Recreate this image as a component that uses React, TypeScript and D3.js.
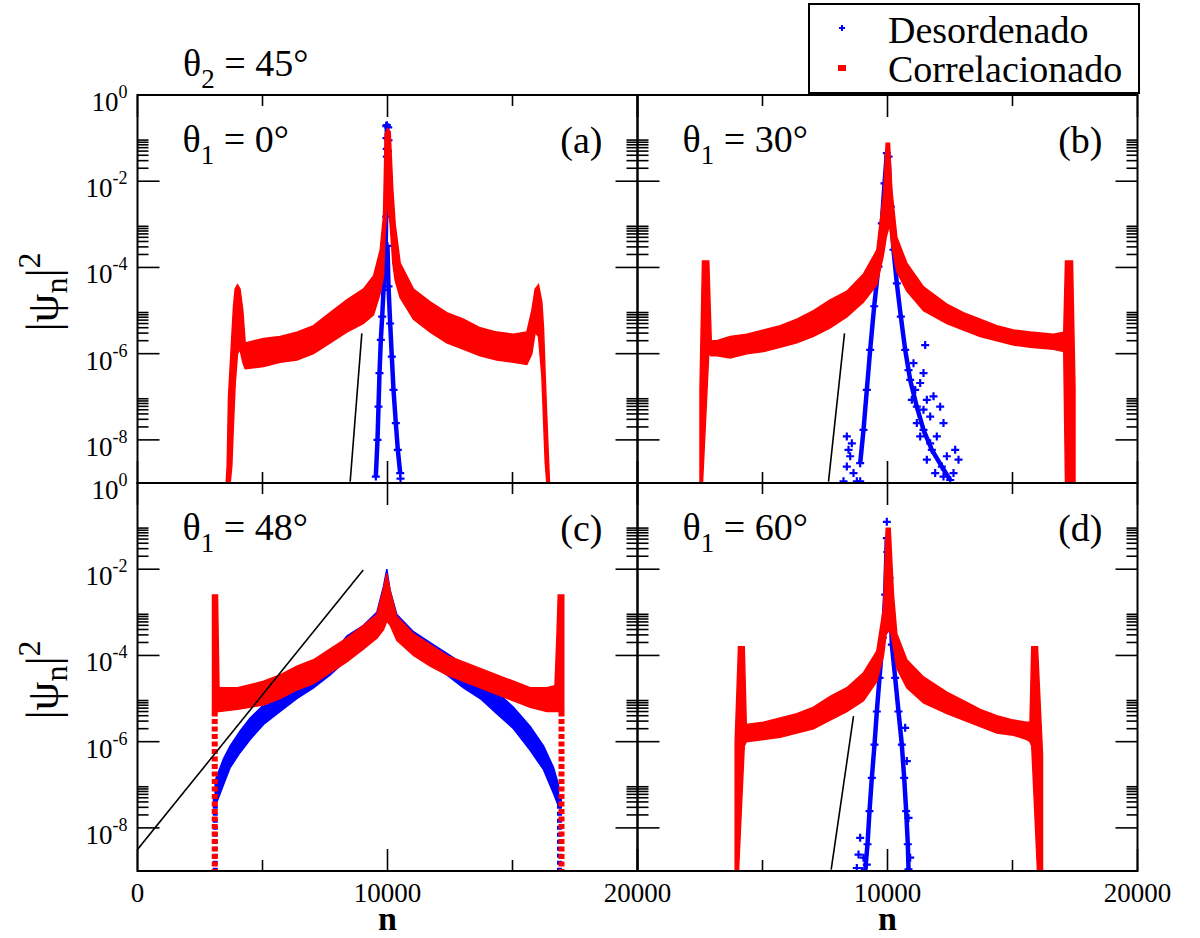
import React from 'react';
import * as d3 from 'd3';

// ---------------- data ----------------
const xMajorTicks = [0, 10000, 20000];
const xMinorTicks = [5000, 15000];
const yMajorExps = [0, -2, -4, -6, -8];
const yMinorMultipliers = [2, 3, 4, 5, 6, 7, 8, 9];
const theta1Labels = ['0°', '30°', '48°', '60°'];
const panelLetters = ['(a)', '(b)', '(c)', '(d)'];
const seriesNames = ['Desordenado', 'Correlacionado'];

// panel (a) — correlated (red) band: n, upper and lower log10 |psi|^2
const aRedN = [3547, 3587, 3640, 3707, 3773, 3840, 3907, 4000, 4100, 4213, 4307, 5040, 5707, 6373, 7040, 7707, 8373, 9040, 9440, 9707, 9840, 9907, 10000, 10107, 10213, 10307, 10507, 11040, 11707, 12373, 13040, 13707, 14373, 15040, 15573, 15773, 15907, 16040, 16173, 16240, 16307, 16373, 16480];
const aRedHi = [-9, -8.6, -7.0, -6.3, -5.6, -4.9, -4.5, -4.4, -4.5, -5.0, -5.75, -5.65, -5.6, -5.5, -5.35, -5.05, -4.75, -4.5, -4.2, -3.6, -2.8, -0.9, -0.78, -0.85, -2.2, -3.0, -3.9, -4.5, -4.8, -5.05, -5.2, -5.4, -5.5, -5.55, -5.5, -5.0, -4.5, -4.4, -4.8, -5.4, -6.5, -7.5, -9];
const aRedLo = [-9, -9, -9, -9, -8.6, -7.6, -6.7, -6.0, -5.9, -6.2, -6.35, -6.3, -6.2, -6.15, -6.0, -5.75, -5.5, -5.3, -5.1, -4.6, -4.2, -3.2, -2.5, -3.0, -3.9, -4.3, -4.7, -5.2, -5.5, -5.75, -5.9, -6.05, -6.15, -6.2, -6.25, -6.0, -5.5, -5.6, -6.5, -7.5, -8.5, -9, -9];
// panel (a) — disordered (blue) branches
const aBlueLeftN = [9533, 9600, 9640, 9680, 9733, 9787, 9840, 9920, 9947, 9973, 9973];
const aBlueLeftE = [-8.85, -8.0, -7.23, -6.45, -5.68, -5.14, -4.52, -3.75, -2.82, -1.43, -0.7];
const aBlueRightN = [10000, 10040, 10107, 10173, 10240, 10333, 10413, 10507];
const aBlueRightE = [-3.5, -4.44, -5.3, -6.07, -6.84, -7.61, -8.23, -8.77];
const aBlueDotsN = [9950, 10030, 9960, 10040, 9970, 10020, 10520];
const aBlueDotsE = [-0.72, -0.75, -1.0, -1.05, -1.25, -1.3, -8.9];
const aFitN = [8507, 8973];
const aFitE = [-8.97, -5.53];

// panel (b)
const bRedN = [2500, 2600, 2850, 2950, 3173, 3707, 4373, 5040, 5707, 6373, 7040, 7707, 8373, 9040, 9573, 9840, 9947, 10080, 10173, 10373, 10773, 11440, 12373, 13040, 13707, 14373, 15040, 15707, 16640, 17050, 17120, 17400, 17500];
const bRedHi = [-6.8, -3.85, -3.85, -5.7, -5.7, -5.6, -5.55, -5.45, -5.35, -5.2, -5.0, -4.75, -4.55, -4.15, -3.6, -2.3, -1.12, -1.12, -2.2, -3.3, -3.9, -4.45, -4.85, -5.05, -5.2, -5.35, -5.45, -5.5, -5.55, -5.5, -3.85, -3.85, -6.8];
const bRedLo = [-9, -9, -6.0, -6.05, -6.05, -6.1, -6.0, -5.95, -5.85, -5.75, -5.6, -5.4, -5.15, -4.8, -4.4, -3.7, -3.3, -3.0, -3.5, -4.1, -4.55, -5.0, -5.3, -5.45, -5.6, -5.7, -5.8, -5.85, -5.9, -5.95, -9, -9, -9];
const bBlueLeftN = [8907, 9040, 9173, 9307, 9467, 9640, 9773, 9880, 9973];
const bBlueLeftE = [-8.54, -7.77, -6.84, -5.91, -4.9, -3.98, -2.98, -2.05, -1.35];
const bBlueRightN = [10040, 10133, 10240, 10373, 10533, 10707, 10907, 11173, 11440, 11773, 12173, 12507];
const bBlueRightE = [-1.43, -2.59, -3.59, -4.37, -5.14, -5.91, -6.61, -7.23, -7.77, -8.23, -8.62, -8.93];
const bBlueDotsN = [8240, 8373, 8507, 8573, 8373, 8773, 8640, 8907, 8440, 11040, 11307, 11440, 11507, 10973, 11173, 11573, 11707, 11840, 12107, 12240, 11973, 12373, 12707, 12840, 12640, 12240, 11707, 11440, 11107, 10840, 11307, 11573, 11907];
const bBlueDotsE = [-8.96, -8.62, -8.38, -8.08, -7.92, -8.96, -8.77, -8.96, -8.23, -6.22, -6.68, -6.45, -5.80, -7.07, -7.61, -7.07, -7.46, -6.99, -7.23, -7.61, -7.92, -8.38, -8.23, -8.46, -8.77, -8.85, -8.08, -7.30, -6.84, -6.38, -7.92, -8.46, -8.77];
const bFitN = [7640, 8280];
const bFitE = [-8.97, -5.53];

// panel (c)
const cRedN = [3000, 3200, 3260, 4000, 5040, 5707, 6373, 7040, 7707, 8373, 9040, 9573, 9840, 9973, 10107, 10373, 11040, 11707, 12373, 13040, 13707, 14373, 15040, 15707, 16373, 16700, 16780, 16830, 17050];
const cRedHi = [-2.6, -2.6, -4.75, -4.75, -4.6, -4.45, -4.25, -4.1, -3.85, -3.6, -3.3, -3.05, -2.45, -2.1, -2.5, -3.1, -3.5, -3.75, -4.0, -4.15, -4.3, -4.45, -4.6, -4.75, -4.75, -4.7, -3.5, -2.6, -2.6];
const cRedLo = [-5.3, -5.3, -5.3, -5.25, -5.15, -5.0, -4.8, -4.65, -4.4, -4.15, -3.85, -3.6, -3.4, -3.2, -3.3, -3.65, -4.0, -4.25, -4.45, -4.6, -4.75, -4.9, -5.05, -5.2, -5.3, -5.3, -5.3, -5.3, -5.3];
const cRedTailN = [3090, 16960];
const cRedTailE = [-5.3, -9];
const cBlueN = [3107, 3240, 3440, 3707, 4107, 4507, 5040, 5707, 6373, 7040, 7707, 8373, 9040, 9573, 9840, 9973, 10107, 10373, 11040, 11707, 12373, 13040, 13707, 14373, 15040, 15707, 16240, 16640, 16840];
const cBlueHi = [-6.9, -6.7, -6.4, -6.1, -5.75, -5.45, -5.15, -4.85, -4.6, -4.35, -4.05, -3.55, -3.3, -3.0, -2.4, -2.0, -2.5, -3.05, -3.45, -3.7, -3.95, -4.2, -4.55, -4.85, -5.2, -5.65, -6.1, -6.6, -7.0];
const cBlueLo = [-7.5, -7.3, -7.0, -6.6, -6.25, -5.95, -5.6, -5.3, -5.0, -4.75, -4.45, -4.1, -3.85, -3.5, -3.3, -3.0, -3.2, -3.6, -3.95, -4.2, -4.45, -4.75, -5.0, -5.35, -5.7, -6.2, -6.65, -7.2, -7.5];
const cBlueTailN = [3110, 16880];
const cBlueTailE = [-7.3, -9];
const cFitN = [0, 9030];
const cFitE = [-8.5, -2.02];

// panel (d)
const dRedN = [3907, 4040, 4270, 4350, 5040, 5707, 6373, 7040, 7707, 8373, 9040, 9573, 9840, 9947, 10107, 10240, 10373, 10773, 11440, 12373, 13040, 13707, 14373, 15040, 15573, 15700, 15770, 16000, 16200];
const dRedHi = [-6.0, -3.8, -3.8, -5.6, -5.55, -5.45, -5.35, -5.2, -4.95, -4.75, -4.4, -3.9, -2.9, -1.05, -1.05, -2.6, -3.5, -4.1, -4.5, -4.85, -5.05, -5.25, -5.4, -5.5, -5.55, -5.55, -3.8, -3.8, -6.3];
const dRedLo = [-9, -9, -6.1, -6.0, -5.95, -5.9, -5.8, -5.7, -5.5, -5.3, -5.05, -4.6, -4.0, -3.5, -3.4, -3.8, -4.3, -4.75, -5.1, -5.35, -5.5, -5.65, -5.8, -5.85, -5.95, -6.0, -6.1, -9, -9];
const dBlueLeftN = [9107, 9200, 9280, 9373, 9480, 9573, 9680, 9813, 9907, 9973];
const dBlueLeftE = [-9, -8.38, -7.61, -6.84, -6.07, -5.3, -4.52, -3.59, -2.59, -1.28];
const dBlueRightN = [10080, 10173, 10307, 10440, 10573, 10667, 10747, 10813, 10840];
const dBlueRightE = [-2.2, -3.75, -4.52, -5.3, -6.07, -6.84, -7.61, -8.38, -8.96];
const dBlueDotsN = [8840, 8907, 9040, 8773, 9173, 8973, 10707, 10773, 10840, 10907, 9973, 9990];
const dBlueDotsE = [-8.62, -8.23, -8.69, -8.93, -8.85, -9.0, -5.68, -6.45, -7.77, -8.69, -0.9, -1.6];
const dFitN = [7747, 8640];
const dFitE = [-8.97, -5.41];

// ---------------- layout ----------------
const FONT = "'Liberation Serif', 'Times New Roman', 'DejaVu Serif', serif";
const RED = '#ff0000';
const BLUE = '#0000ff';
const PX0 = [137.5, 637.5, 137.5, 637.5];
const PY0 = [95, 95, 483, 483];
const PW = 500;
const PH = 388;

type Band = { n: number[]; hi: number[]; lo: number[] };
type Branch = { n: number[]; e: number[] };
type PanelData = {
  red: Band;
  blueBand?: Band;
  blueBranches: Branch[];
  blueDots: Branch;
  fit: Branch;
  redTail?: { n: number[]; e: number[] };
  blueTail?: { n: number[]; e: number[] };
};

const panelData: PanelData[] = [
  {
    red: { n: aRedN, hi: aRedHi, lo: aRedLo },
    blueBranches: [{ n: aBlueLeftN, e: aBlueLeftE }, { n: aBlueRightN, e: aBlueRightE }],
    blueDots: { n: aBlueDotsN, e: aBlueDotsE },
    fit: { n: aFitN, e: aFitE },
  },
  {
    red: { n: bRedN, hi: bRedHi, lo: bRedLo },
    blueBranches: [{ n: bBlueLeftN, e: bBlueLeftE }, { n: bBlueRightN, e: bBlueRightE }],
    blueDots: { n: bBlueDotsN, e: bBlueDotsE },
    fit: { n: bFitN, e: bFitE },
  },
  {
    red: { n: cRedN, hi: cRedHi, lo: cRedLo },
    blueBand: { n: cBlueN, hi: cBlueHi, lo: cBlueLo },
    blueBranches: [],
    blueDots: { n: [], e: [] },
    fit: { n: cFitN, e: cFitE },
    redTail: { n: cRedTailN, e: cRedTailE },
    blueTail: { n: cBlueTailN, e: cBlueTailE },
  },
  {
    red: { n: dRedN, hi: dRedHi, lo: dRedLo },
    blueBranches: [{ n: dBlueLeftN, e: dBlueLeftE }, { n: dBlueRightN, e: dBlueRightE }],
    blueDots: { n: dBlueDotsN, e: dBlueDotsE },
    fit: { n: dFitN, e: dFitE },
  },
];

const plusPath = (r: number) => `M${-r},0H${r}M0,${-r}V${r}`;

function Panel({ idx }: { idx: number }) {
  const x0 = PX0[idx];
  const y0 = PY0[idx];
  const x = d3.scaleLinear().domain([0, 20000]).range([x0, x0 + PW]);
  const y = d3.scaleLog().domain([1, 1e-9]).range([y0, y0 + PH]);
  const ye = (e: number) => y(Math.pow(10, e));
  const data = panelData[idx];
  const clipId = `clip${idx}`;

  const bandArea = (b: Band) =>
    d3
      .area<number>()
      .x((i) => x(b.n[i]))
      .y0((i) => ye(b.lo[i]))
      .y1((i) => ye(b.hi[i]))(d3.range(b.n.length)) || '';

  const branchLine = (br: Branch) =>
    d3
      .line<number>()
      .x((i) => x(br.n[i]))
      .y((i) => ye(br.e[i]))(d3.range(br.n.length)) || '';

  const majorLen = 22;
  const minorLen = 11;
  const left = x0;
  const right = x0 + PW;
  const top = y0;
  const bottom = y0 + PH;

  const yMinorVals: number[] = [];
  yMajorExps.forEach((m) => {
    if (m < 0) yMinorMultipliers.forEach((k) => yMinorVals.push(k * Math.pow(10, m)));
  });

  const showYLabels = idx === 0 || idx === 2;
  const showXLabels = idx >= 2;

  return (
    <g>
      <defs>
        <clipPath id={clipId}>
          <rect x={left} y={top} width={PW} height={PH} />
        </clipPath>
      </defs>
      <g clipPath={`url(#${clipId})`}>
        {data.blueTail &&
          data.blueTail.n.map((nv, i) => (
            <line
              key={'bt' + i}
              x1={x(nv)}
              x2={x(nv)}
              y1={ye(data.blueTail!.e[0])}
              y2={ye(data.blueTail!.e[1])}
              stroke={BLUE}
              strokeWidth={5}
              strokeDasharray="4 3"
            />
          ))}
        {data.blueBand && <path d={bandArea(data.blueBand)} fill={BLUE} stroke={BLUE} strokeWidth={1.5} />}
        {data.blueBranches.map((br, bi) => (
          <g key={'br' + bi}>
            <path d={branchLine(br)} fill="none" stroke={BLUE} strokeWidth={4.5} />
            {br.n.map((nv, i) => (
              <path
                key={i}
                d={plusPath(4)}
                transform={`translate(${x(nv)},${ye(br.e[i])})`}
                stroke={BLUE}
                strokeWidth={2.2}
              />
            ))}
          </g>
        ))}
        {data.blueDots.n.map((nv, i) => (
          <path
            key={'bd' + i}
            d={plusPath(4)}
            transform={`translate(${x(nv)},${ye(data.blueDots.e[i])})`}
            stroke={BLUE}
            strokeWidth={2.2}
          />
        ))}
        {data.redTail &&
          data.redTail.n.map((nv, i) => (
            <line
              key={'rt' + i}
              x1={x(nv)}
              x2={x(nv)}
              y1={ye(data.redTail!.e[0])}
              y2={ye(data.redTail!.e[1])}
              stroke={RED}
              strokeWidth={6}
              strokeDasharray="5 2.5"
            />
          ))}
        <path d={bandArea(data.red)} fill={RED} stroke={RED} strokeWidth={1.5} />
        <line
          x1={x(data.fit.n[0])}
          y1={ye(data.fit.e[0])}
          x2={x(data.fit.n[1])}
          y2={ye(data.fit.e[1])}
          stroke="#000"
          strokeWidth={1.6}
        />
      </g>

      {/* ticks */}
      <g stroke="#000" strokeWidth={1.6}>
        {yMajorExps.map((m) => {
          const yy = ye(m);
          return (
            <g key={'ym' + m}>
              <line x1={left} x2={left + majorLen} y1={yy} y2={yy} />
              <line x1={right} x2={right - majorLen} y1={yy} y2={yy} />
            </g>
          );
        })}
        {yMinorVals.map((v, i) => {
          const yy = y(v);
          return (
            <g key={'yn' + i}>
              <line x1={left} x2={left + minorLen} y1={yy} y2={yy} />
              <line x1={right} x2={right - minorLen} y1={yy} y2={yy} />
            </g>
          );
        })}
        {xMajorTicks.map((v) => (
          <g key={'xm' + v}>
            <line x1={x(v)} x2={x(v)} y1={bottom} y2={bottom - majorLen} />
            <line x1={x(v)} x2={x(v)} y1={top} y2={top + majorLen} />
          </g>
        ))}
        {xMinorTicks.map((v) => (
          <g key={'xn' + v}>
            <line x1={x(v)} x2={x(v)} y1={bottom} y2={bottom - minorLen} />
            <line x1={x(v)} x2={x(v)} y1={top} y2={top + minorLen} />
          </g>
        ))}
      </g>
      <rect x={left} y={top} width={PW} height={PH} fill="none" stroke="#000" strokeWidth={2} />

      {showYLabels &&
        yMajorExps.map((m) => (
          <text key={'yl' + m} x={left - 10} y={ye(m) + 16} textAnchor="end" fontSize={27}>
            10
            <tspan dy={-13} fontSize={18}>
              {String(m)}
            </tspan>
          </text>
        ))}
      {showXLabels &&
        xMajorTicks
          .filter((v) => !(idx === 3 && v === 0))
          .map((v) => (
            <text key={'xl' + v} x={x(v)} y={bottom + 31} textAnchor="middle" fontSize={27}>
              {String(v)}
            </text>
          ))}

      {/* annotations */}
      <text x={left + 45} y={top + 57} fontSize={38}>
        θ
        <tspan fontSize={27} dy={12}>
          1
        </tspan>
        <tspan dy={-12}>{' = ' + theta1Labels[idx]}</tspan>
      </text>
      <text x={right - 35} y={top + 58} textAnchor="end" fontSize={38}>
        {panelLetters[idx]}
      </text>
    </g>
  );
}

export default function App() {
  return (
    <svg
      width={1200}
      height={938}
      style={{ position: 'absolute', left: 0, top: 0, background: '#fff', fontFamily: FONT }}
    >
      <rect x={0} y={0} width={1200} height={938} fill="#fff" />
      {[0, 1, 2, 3].map((i) => (
        <Panel key={i} idx={i} />
      ))}

      {/* theta2 label */}
      <text x={183} y={76} fontSize={38}>
        θ
        <tspan fontSize={27} dy={12}>
          2
        </tspan>
        <tspan dy={-12}>{' = 45°'}</tspan>
      </text>

      {/* y axis titles */}
      {[292, 680].map((cy, i) => (
        <text key={'yt' + i} transform={`translate(58,${cy}) rotate(-90)`} textAnchor="middle" fontSize={46}>
          |ψ
          <tspan fontSize={32} dy={9}>
            n
          </tspan>
          <tspan dy={-9}>|</tspan>
          <tspan fontSize={32} dy={-18}>
            2
          </tspan>
        </text>
      ))}

      {/* x axis titles */}
      {[387.5, 887.5].map((cx, i) => (
        <text key={'xt' + i} x={cx} y={930} textAnchor="middle" fontSize={34} fontWeight="bold">
          n
        </text>
      ))}

      {/* legend */}
      <rect x={809} y={4} width={330} height={89} fill="#fff" stroke="#000" strokeWidth={2} />
      <path d={plusPath(3)} transform="translate(842,28)" stroke={BLUE} strokeWidth={2} />
      <rect x={838} y={65} width={8} height={6} fill={RED} />
      <text x={888} y={43} fontSize={38}>
        {seriesNames[0]}
      </text>
      <text x={888} y={82} fontSize={38}>
        {seriesNames[1]}
      </text>
    </svg>
  );
}
